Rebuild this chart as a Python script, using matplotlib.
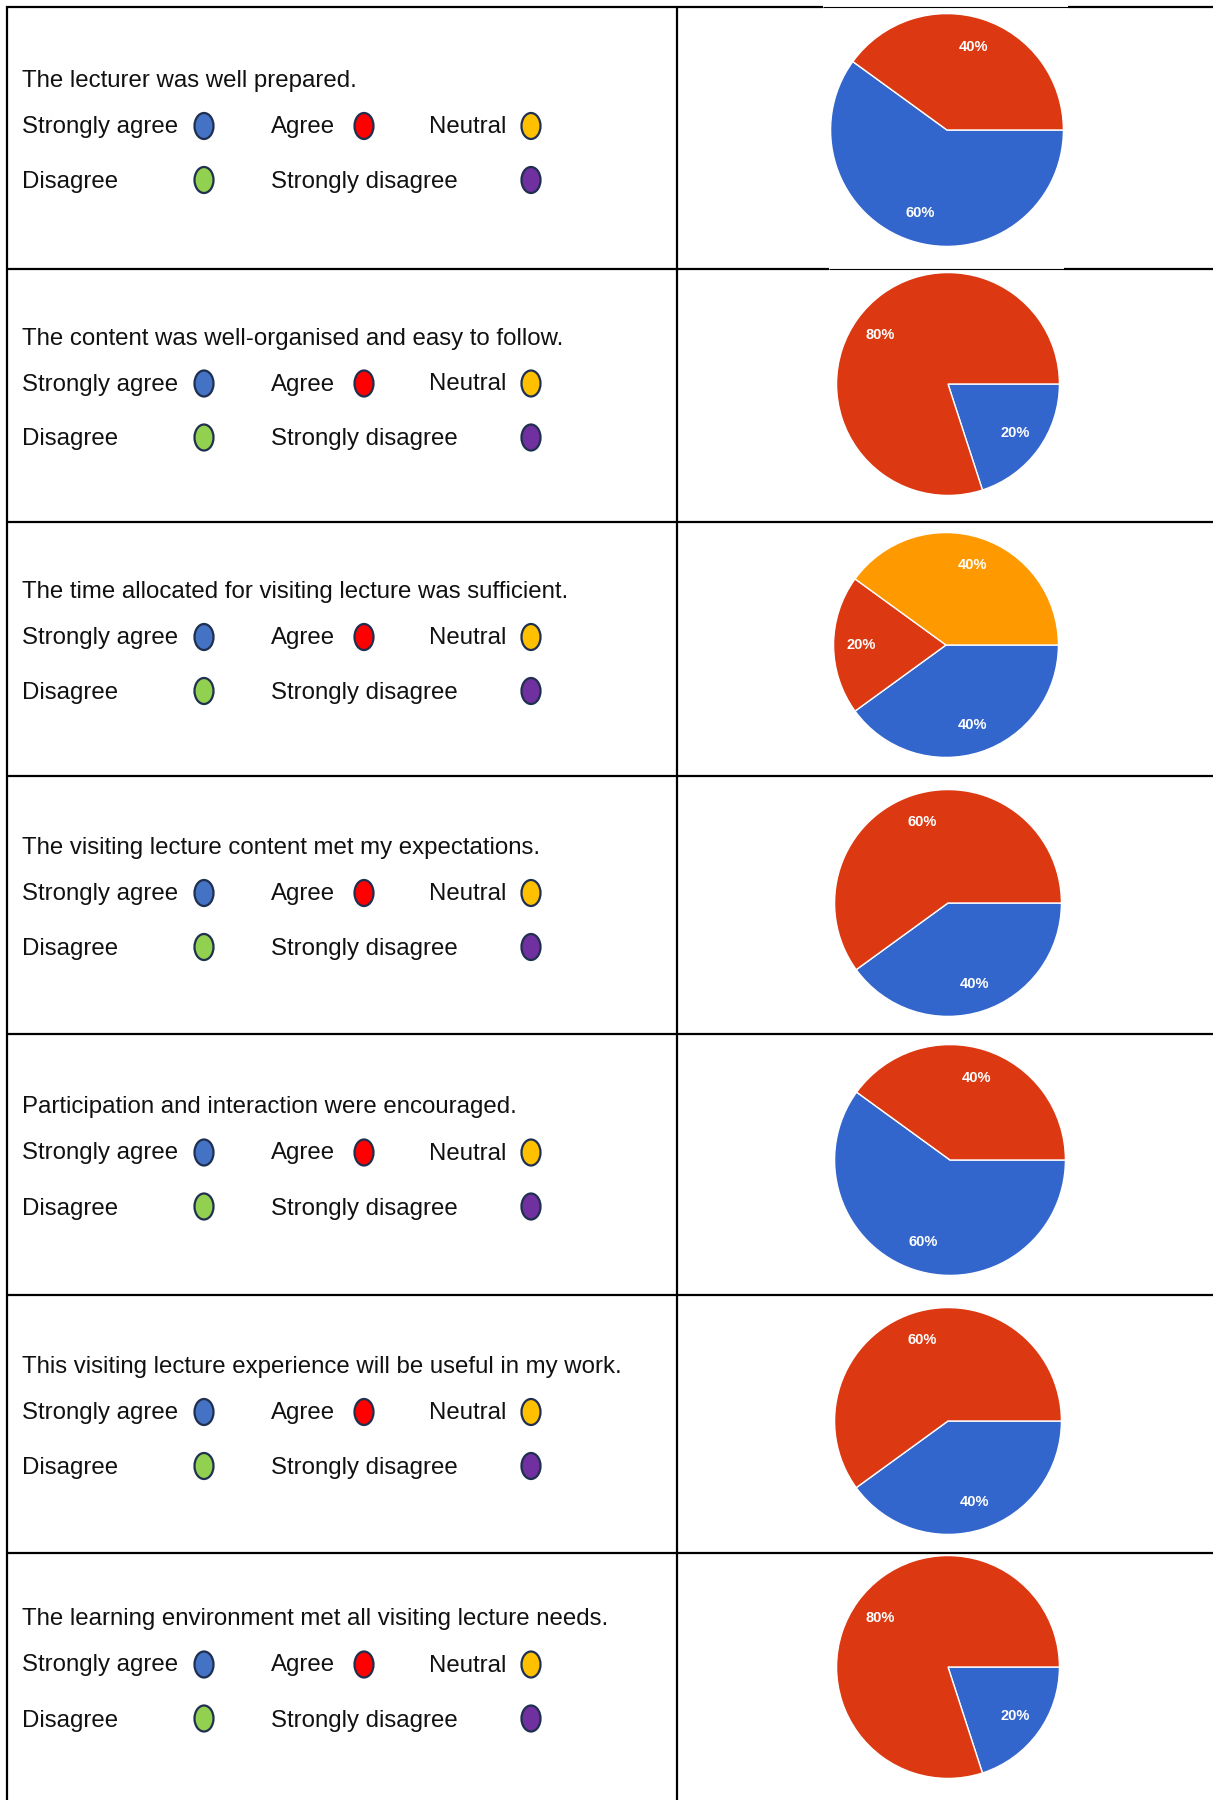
import matplotlib
matplotlib.use("Agg")
import matplotlib.pyplot as plt
from matplotlib.patches import Ellipse

plt.rcParams['font.family'] = ['Liberation Sans', 'DejaVu Sans']

# ---------------- data ----------------
questions = [
    "The lecturer was well prepared.",
    "The content was well-organised and easy to follow.",
    "The time allocated for visiting lecture was sufficient.",
    "The visiting lecture content met my expectations.",
    "Participation and interaction were encouraged.",
    "This visiting lecture experience will be useful in my work.",
    "The learning environment met all visiting lecture needs.",
]
legend_labels = ["Strongly agree", "Agree", "Neutral", "Disagree", "Strongly disagree"]
legend_colors = ["#4472C4", "#FF0000", "#FFC000", "#92D050", "#7030A0"]

strongly_agree = [60, 20, 40, 40, 60, 40, 20]
agree = [40, 80, 20, 60, 40, 60, 80]
neutral = [0, 0, 40, 0, 0, 0, 0]
pie_colors = {"Strongly agree": "#3366CC", "Agree": "#DC3912", "Neutral": "#FF9900"}

# ---------------- layout (pixels) ----------------
W, H = 1213, 1800
row_edges = [7, 269, 522, 776, 1034, 1295, 1553, 1800]
x_left, x_div = 7, 677
pie_cx = [947, 948, 946, 948, 950, 948, 948]
pie_cy = [130, 384, 645, 903, 1160, 1421, 1667]
pie_r = [117, 112, 113, 114, 116, 114, 112]

fig = plt.figure(figsize=(W / 100, H / 100), dpi=100)
ax = fig.add_axes([0, 0, 1, 1])
ax.set_xlim(0, W)
ax.set_ylim(H, 0)
ax.axis("off")

lw = 1.6
# vertical lines
ax.plot([x_left, x_left], [row_edges[0] - 1, H], color="black", lw=lw, solid_capstyle="butt")
ax.plot([x_div, x_div], [row_edges[0] - 1, H], color="black", lw=lw, solid_capstyle="butt")
# horizontal lines (pie images overlap the border partially in first row)
thin_segments = {0: (823, 1068), 1: (829, 1064)}
for i, y in enumerate(row_edges[:-1]):
    if i in thin_segments:
        a, b = thin_segments[i]
        ax.plot([x_left - 1, a], [y, y], color="black", lw=lw, solid_capstyle="butt")
        ax.plot([a, b], [y, y], color="black", lw=0.8, solid_capstyle="butt")
        ax.plot([b, W], [y, y], color="black", lw=lw, solid_capstyle="butt")
    else:
        ax.plot([x_left - 1, W], [y, y], color="black", lw=lw, solid_capstyle="butt")

fs = 17.3
txt_color = "#111111"
label_x = [22, 271, 429, 22, 271]
marker_x = [204, 364, 531, 204, 531]
row_of = [0, 0, 0, 1, 1]

for i, q in enumerate(questions):
    mid = (row_edges[i] + row_edges[i + 1]) / 2
    ax.text(22, mid - 51, q, fontsize=fs, color=txt_color, va="baseline", ha="left")
    for k, lab in enumerate(legend_labels):
        yb = mid - 5 if row_of[k] == 0 else mid + 50
        ym = mid - 12 if row_of[k] == 0 else mid + 42
        ax.text(label_x[k], yb, lab, fontsize=fs, color=txt_color, va="baseline", ha="left")
        ax.add_patch(Ellipse((marker_x[k], ym), 19, 26, facecolor=legend_colors[k],
                             edgecolor="#1F2F4F", lw=1.6))

    # pie
    vals, cols = [], []
    for name, series in (("Strongly agree", strongly_agree), ("Agree", agree), ("Neutral", neutral)):
        if series[i] > 0:
            vals.append(series[i])
            cols.append(pie_colors[name])
    cx, cy, r = pie_cx[i], pie_cy[i], pie_r[i]
    pax = fig.add_axes([(cx - r) / W, 1 - (cy + r) / H, 2 * r / W, 2 * r / H])
    pax.pie(vals, colors=cols, startangle=0, counterclock=False, radius=1,
            autopct=lambda p: f"{p:.0f}%", pctdistance=0.75,
            wedgeprops=dict(edgecolor="white", linewidth=1),
            textprops=dict(color="white", fontsize=10.5, fontweight="bold"))
    pax.set_xlim(-1.005, 1.005)
    pax.set_ylim(-1.005, 1.005)
    pax.set_aspect("equal")
    pax.axis("off")

fig.savefig("out.png", dpi=100)
